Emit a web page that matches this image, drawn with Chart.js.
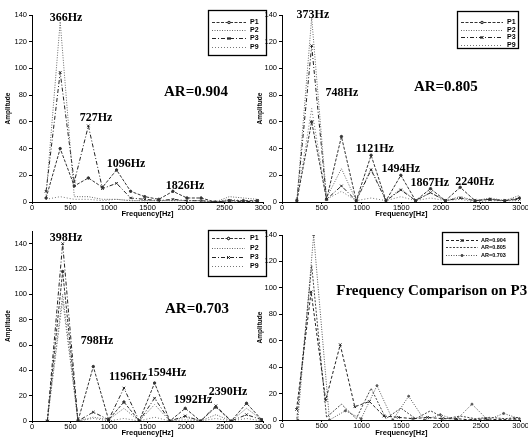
<!DOCTYPE html>
<html><head><meta charset="utf-8">
<script src="https://cdn.jsdelivr.net/npm/chart.js@4.4.1/dist/chart.umd.min.js"></script>
<style>
html,body{margin:0;padding:0;background:#fff;}
#wrap{position:relative;width:528px;height:441px;overflow:hidden;background:#fff;}
canvas{position:absolute;left:0;top:0;}
</style></head><body>
<div id="wrap">
<canvas id="c1" width="528" height="441"></canvas>
<canvas id="c2" width="528" height="441"></canvas>
<canvas id="c3" width="528" height="441"></canvas>
<canvas id="c4" width="528" height="441"></canvas>
</div>
<script>
// ---------------- DATA ----------------
const xTicks = [0, 500, 1000, 1500, 2000, 2500, 3000];
const yTicks = [0, 20, 40, 60, 80, 100, 120, 140];
const pointNames = ['P1', 'P2', 'P3', 'P9'];
const compareNames = ['AR=0.904', 'AR=0.805', 'AR=0.703'];

// AR = 0.904
const freq904 = [183, 366, 549, 732, 915, 1098, 1281, 1464, 1647, 1830, 2013, 2196, 2379, 2562, 2745, 2928];
const p1_904 = [3, 40, 12, 18, 11, 24, 8, 4, 2, 8, 3, 3, 0, 1, 1, 1];
const p2_904 = [5, 135, 4, 4, 2, 2, 1, 1, 1, 1, 1, 1, 0, 4, 3, 2];
const p3_904 = [8, 97, 15, 57, 10, 14, 3, 2, 1, 2, 1, 1, 0, 1, 0, 1];
const p9_904 = [2, 4, 2, 2, 1, 2, 1, 1, 1, 1, 1, 1, 0, 2, 1, 0];

// AR = 0.805
const freq805 = [187, 373, 560, 747, 933, 1120, 1307, 1494, 1680, 1867, 2054, 2240, 2427, 2614, 2800, 2987];
const p1_805 = [1, 60, 2, 49, 1, 35, 1, 20, 1, 10, 1, 11, 1, 2, 1, 3];
const p2_805 = [1, 138, 3, 25, 1, 25, 1, 10, 1, 7, 1, 4, 1, 3, 1, 5];
const p3_805 = [1, 117, 2, 12, 1, 24, 1, 9, 1, 7, 1, 3, 1, 2, 1, 2];
const p9_805 = [1, 70, 2, 8, 1, 3, 1, 4, 1, 3, 1, 2, 0, 1, 1, 1];

// AR = 0.703
const freq703 = [199, 398, 597, 796, 995, 1194, 1393, 1592, 1791, 1990, 2189, 2388, 2587, 2786, 2985];
const p1_703 = [0, 118, 0, 43, 1, 15, 0, 30, 0, 10, 0, 11, 0, 14, 1];
const p2_703 = [0, 100, 0, 3, 1, 10, 0, 13, 0, 3, 0, 5, 0, 10, 1];
const p3_703 = [0, 140, 0, 7, 1, 26, 0, 18, 0, 4, 0, 12, 0, 5, 1];
const p9_703 = [0, 95, 0, 2, 0, 2, 0, 3, 0, 1, 0, 2, 0, 2, 0];

// peak annotations: text, and text centre in data units (Hz, amplitude)
const notes904 = ['366Hz', '727Hz', '1096Hz', '1826Hz', 'AR=0.904'];
const notes904X = [441, 831, 1221, 1987, 2130];
const notes904Y = [138, 63, 28.5, 12, 82];
const notes805 = ['373Hz', '748Hz', '1121Hz', '1494Hz', '1867Hz', '2240Hz', 'AR=0.805'];
const notes805X = [389, 753, 1167, 1494, 1858, 2422, 2060];
const notes805Y = [140, 81.6, 40, 25, 14, 15, 86];
const notes703 = ['398Hz', '798Hz', '1196Hz', '1594Hz', '1992Hz', '2390Hz', 'AR=0.703'];
const notes703X = [441, 844, 1247, 1753, 2091, 2545, 2143];
const notes703Y = [144.8, 63.5, 35, 38, 16.6, 23, 88];
const notesCmp = ['Frequency Comparison on P3'];
const notesCmpX = [1883];
const notesCmpY = [97.6];

// ---------------- STYLES ----------------
const TICK_FONT = "'Liberation Sans Narrow','Liberation Sans',Arial,sans-serif";
const SERIF = "'Liberation Serif','DejaVu Serif',serif";
const seriesStyles = [
  {color: '#333', dash: [3, 1.5], point: 'circle', r: 1.2},
  {color: '#666', dash: [1, 1.5], point: 'circle', r: 0},
  {color: '#222', dash: [4, 2, 1, 2], point: 'crossRot', r: 1.8},
  {color: '#777', dash: [1, 2], point: 'circle', r: 0}
];
const cmpStyles = [
  {color: '#222', dash: [3, 2], point: 'crossRot', r: 1.8},
  {color: '#444', dash: [2, 1.5], point: 'circle', r: 0},
  {color: '#555', dash: [1, 1.5], point: 'circle', r: 1}
];

const EXTRAS = {};

function buildDatasets(freqs, seriesArr, names, styles) {
  return seriesArr.map((vals, i) => ({
    label: names[i],
    data: vals.map((v, k) => ({x: freqs[k], y: v})),
    borderColor: styles[i].color,
    backgroundColor: styles[i].color,
    borderDash: styles[i].dash,
    borderWidth: 1,
    pointRadius: styles[i].r,
    pointStyle: styles[i].point,
    pointBorderWidth: 1,
    pointBorderColor: styles[i].color,
    fill: false,
    tension: 0
  }));
}

const overlayPlugin = {
  id: 'overlay',
  afterDraw(chart) {
    const ex = EXTRAS[chart.canvas.id];
    if (!ex) return;
    const ctx = chart.ctx;
    const xs = chart.scales.x, ys = chart.scales.y;
    ctx.save();
    // notes
    ex.notes.forEach((t, i) => {
      const big = t.startsWith('AR') || t.startsWith('Freq');
      ctx.font = 'bold ' + (big ? ex.bigSize : ex.noteSize) + 'px ' + SERIF;
      ctx.fillStyle = '#000';
      ctx.textAlign = 'center';
      ctx.textBaseline = 'middle';
      ctx.fillText(t, xs.getPixelForValue(ex.noteX[i]), ys.getPixelForValue(ex.noteY[i]));
    });
    // boxed legend
    const L = ex.legend;
    ctx.fillStyle = '#fff';
    ctx.fillRect(L.l, L.t, L.r - L.l, L.b - L.t);
    ctx.strokeStyle = '#000';
    ctx.lineWidth = 1.3;
    ctx.setLineDash([]);
    ctx.strokeRect(L.l + 0.5, L.t + 0.5, L.r - L.l, L.b - L.t);
    chart.data.datasets.forEach((ds, i) => {
      const y = L.rows[i] + 0.5;
      ctx.strokeStyle = ds.borderColor;
      ctx.lineWidth = 1;
      ctx.setLineDash(ds.borderDash || []);
      ctx.beginPath();
      ctx.moveTo(L.x1, y);
      ctx.lineTo(L.x2, y);
      ctx.stroke();
      ctx.setLineDash([]);
      if (ds.pointRadius > 0) {
        Chart.helpers.drawPoint(ctx, {pointStyle: ds.pointStyle, radius: ds.pointRadius, borderWidth: 1, rotation: 0}, (L.x1 + L.x2) / 2, y);
        ctx.stroke();
      }
      ctx.fillStyle = '#000';
      ctx.font = 'bold ' + L.fs + 'px ' + TICK_FONT;
      ctx.textAlign = 'left';
      ctx.textBaseline = 'middle';
      ctx.fillText(ds.label, L.tx, y);
    });
    ctx.restore();
  }
};

function makePanel(id, geo, freqs, series, names, styles, ex) {
  EXTRAS[id] = ex;
  return new Chart(document.getElementById(id), {
    type: 'line',
    data: {datasets: buildDatasets(freqs, series, names, styles)},
    plugins: [overlayPlugin],
    options: {
      responsive: false,
      animation: false,
      events: [],
      layout: {padding: {left: geo.left - geo.yw, top: geo.top, right: 528 - geo.right, bottom: 441 - geo.bottom - geo.xh}},
      plugins: {legend: {display: false}, tooltip: {enabled: false}},
      scales: {
        x: {
          type: 'linear', min: 0, max: 3000,
          afterBuildTicks: s => { s.ticks = xTicks.map(v => ({value: v})); },
          afterFit: s => { s.height = geo.xh; },
          ticks: {font: {family: TICK_FONT, size: 7.5}, color: '#000', padding: -1, maxRotation: 0, autoSkip: false, callback: v => String(v)},
          grid: {display: true, drawOnChartArea: false, drawTicks: true, tickLength: 2, color: '#000'},
          border: {display: true, color: '#000', width: 1},
          title: {display: true, text: 'Frequency[Hz]', color: '#000', font: {family: "'Liberation Sans',Arial,sans-serif", size: 7.5, weight: 'bold'}, padding: {top: 0, bottom: 0}}
        },
        y: {
          min: 0, max: geo.ymax,
          afterBuildTicks: s => { s.ticks = yTicks.map(v => ({value: v})); },
          afterFit: s => { s.width = geo.yw; },
          ticks: {font: {family: TICK_FONT, size: 7.5}, color: '#000', padding: 2, autoSkip: false, callback: v => String(v)},
          grid: {display: true, drawOnChartArea: false, drawTicks: true, tickLength: 3, color: '#000'},
          border: {display: true, color: '#000', width: 1},
          title: {display: true, text: 'Amplitude', color: '#000', font: {family: "'Liberation Sans',Arial,sans-serif", size: 6.5, weight: 'bold'}, padding: {top: 2, bottom: 0}}
        }
      }
    }
  });
}

makePanel('c1', {left: 32, right: 263, top: 15, bottom: 202, yw: 30, xh: 16, ymax: 140},
  freq904, [p1_904, p2_904, p3_904, p9_904], pointNames, seriesStyles,
  {notes: notes904, noteX: notes904X, noteY: notes904Y, noteSize: 12, bigSize: 15,
   legend: {l: 208, t: 10, r: 266, b: 55, rows: [22, 30, 38, 47], x1: 212, x2: 246, tx: 250, fs: 7}});

makePanel('c2', {left: 282, right: 521, top: 15, bottom: 202, yw: 28, xh: 16, ymax: 140},
  freq805, [p1_805, p2_805, p3_805, p9_805], pointNames, seriesStyles,
  {notes: notes805, noteX: notes805X, noteY: notes805Y, noteSize: 12, bigSize: 15,
   legend: {l: 457, t: 11, r: 518, b: 48, rows: [22, 30, 37, 45], x1: 461, x2: 503, tx: 507, fs: 7}});

makePanel('c3', {left: 32, right: 263, top: 231, bottom: 421, yw: 30, xh: 16, ymax: 150},
  freq703, [p1_703, p2_703, p3_703, p9_703], pointNames, seriesStyles,
  {notes: notes703, noteX: notes703X, noteY: notes703Y, noteSize: 12, bigSize: 15,
   legend: {l: 208, t: 230, r: 266, b: 276, rows: [238, 248, 257, 266], x1: 212, x2: 245, tx: 250, fs: 7}});

makePanel('c4', {left: 282, right: 521, top: 235, bottom: 420, yw: 28, xh: 17, ymax: 140},
  freq703, [], compareNames, cmpStyles,
  {notes: notesCmp, noteX: notesCmpX, noteY: notesCmpY, noteSize: 12, bigSize: 15,
   legend: {l: 442, t: 232, r: 518, b: 264, rows: [240, 247, 255], x1: 446, x2: 478, tx: 481, fs: 5.5}});

// panel 4 compares P3 across the three ARs
(function () {
  const ch = Chart.getChart('c4');
  ch.data.datasets = [
    ...buildDatasets(freq904, [p3_904], [compareNames[0]], [cmpStyles[0]]),
    ...buildDatasets(freq805, [p3_805], [compareNames[1]], [cmpStyles[1]]),
    ...buildDatasets(freq703, [p3_703], [compareNames[2]], [cmpStyles[2]])
  ];
  ch.update();
})();
</script>
</body></html>
